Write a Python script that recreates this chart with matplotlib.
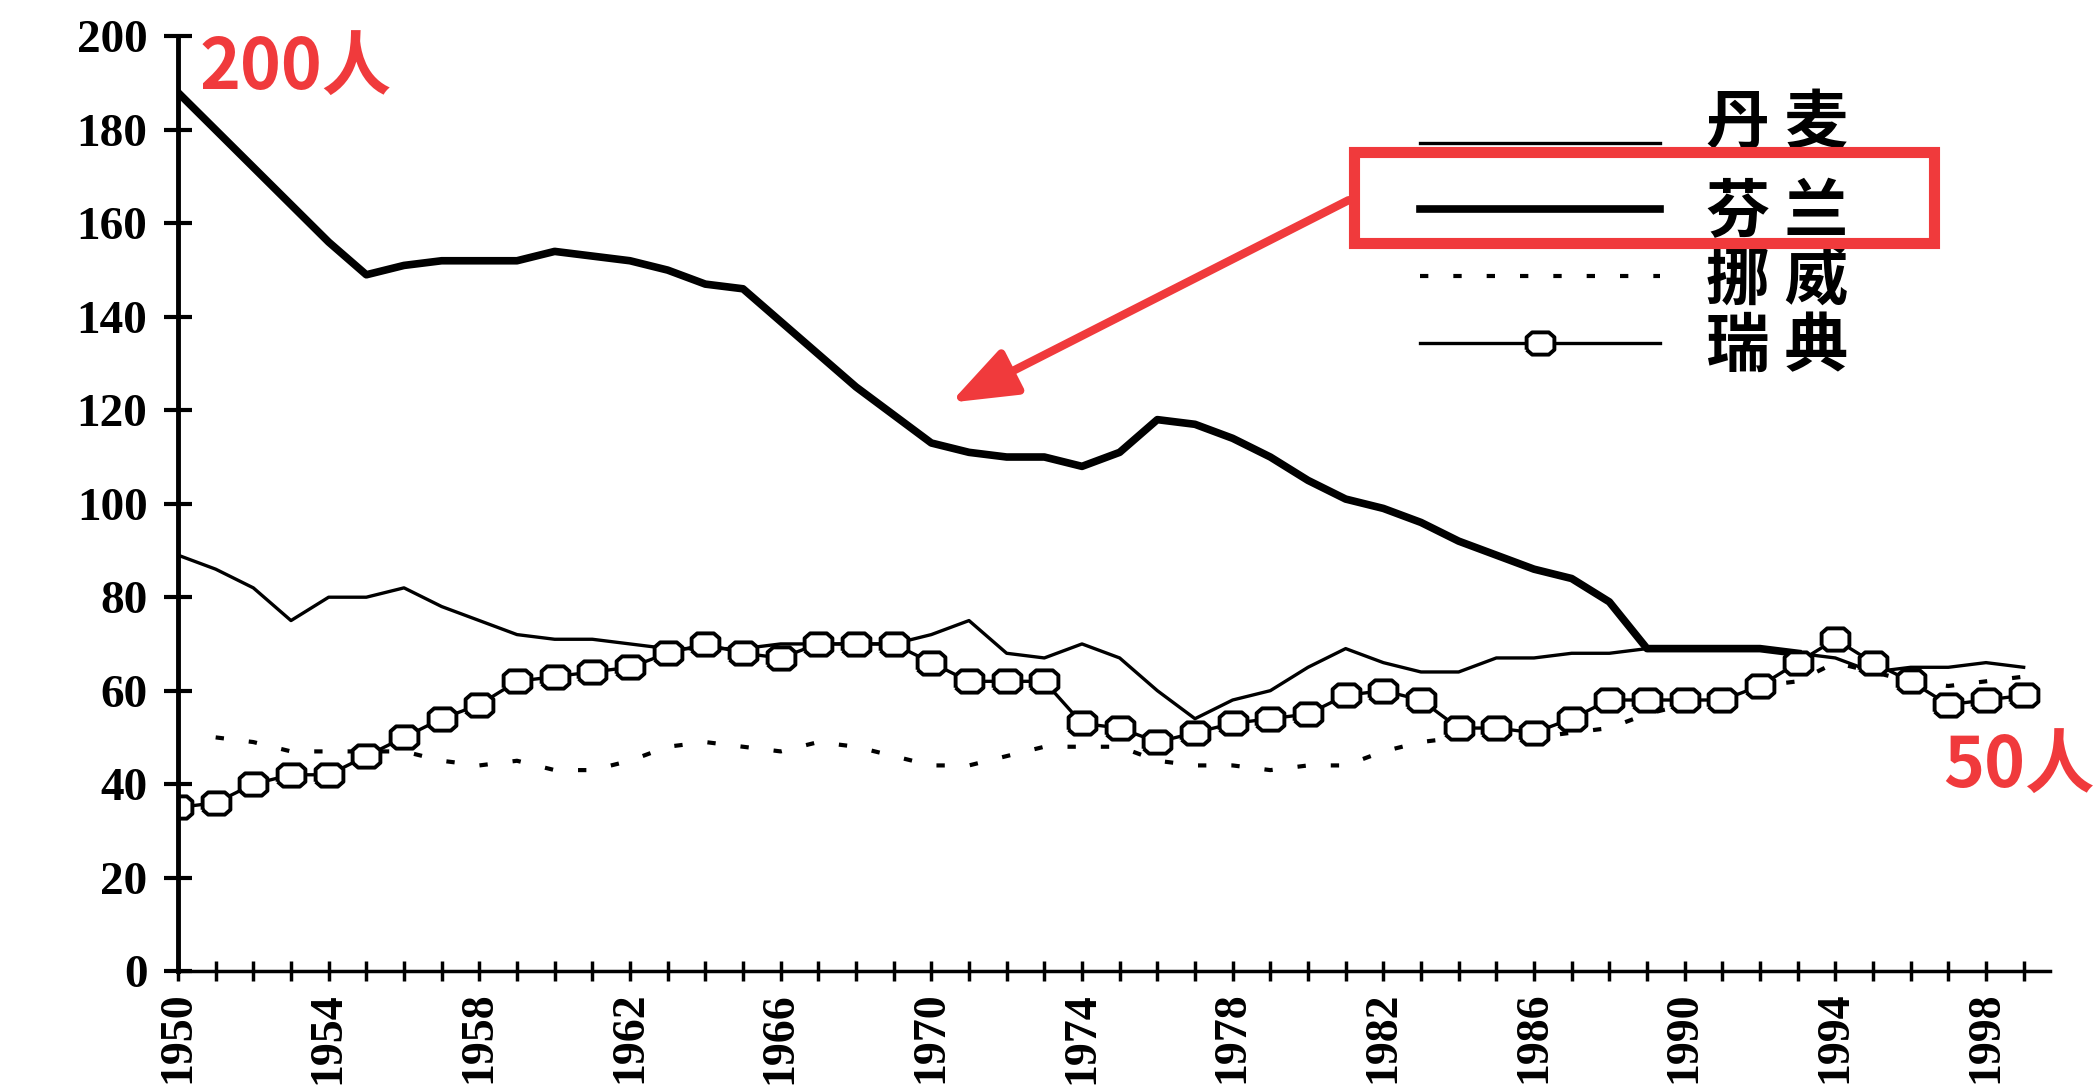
import numpy as np
import matplotlib
matplotlib.use("Agg")
import matplotlib.pyplot as plt
import matplotlib.transforms as mtransforms
from matplotlib.patches import Rectangle

plt.rcParams['font.family'] = ['Noto Sans CJK SC', 'DejaVu Sans']

# data (per year)
years_fin = list(range(1950, 1994))
finland = [188, 180, 172, 164, 156, 149, 151, 152, 152, 152,
           154, 153, 152, 150, 147, 146, 139, 132, 125, 119,
           113, 111, 110, 110, 108, 111, 118, 117, 114, 110,
           105, 101, 99, 96, 92, 89, 86, 84, 79, 69,
           69, 69, 69, 68]

years_den = list(range(1950, 2000))
denmark = [89, 86, 82, 75, 80, 80, 82, 78, 75, 72,
           71, 71, 70, 69, 69, 69, 70, 70, 70, 70,
           72, 75, 68, 67, 70, 67, 60, 54, 58, 60,
           65, 69, 66, 64, 64, 67, 67, 68, 68, 69,
           69, 69, 69, 68, 67, 64, 65, 65, 66, 65]

years_nor = list(range(1951, 2000))
norway = [50, 49, 47, 47, 47, 47, 45, 44, 45,
          43, 43, 45, 48, 49, 48, 47, 49, 48, 46,
          44, 44, 46, 48, 48, 48, 45, 44, 44, 43,
          44, 44, 47, 49, 50, 50, 50, 51, 52, 55,
          57, 60, 61, 62, 66, 64, 62, 61, 62, 63]

years_swe = list(range(1950, 2000))
sweden = [35, 36, 40, 42, 42, 46, 50, 54, 57, 62,
          63, 64, 65, 68, 70, 68, 67, 70, 70, 70,
          66, 62, 62, 62, 53, 52, 49, 51, 53, 54,
          55, 59, 60, 58, 52, 52, 51, 54, 58, 58,
          58, 58, 61, 66, 71, 66, 62, 57, 58, 59]

labels = ['丹 麦', '芬 兰', '挪 威', '瑞 典']
yticks = [0, 20, 40, 60, 80, 100, 120, 140, 160, 180, 200]
xlabel_years = list(range(1950, 2000, 4))

red = '#f03a3c'

fig = plt.figure(figsize=(20.94, 10.88), dpi=100)
ax = fig.add_axes([0.085, 0.1075, 0.894, 0.859])

# octagon marker like the scanned ones
octo = [(-1, -0.45), (-0.6, -0.8), (0.6, -0.8), (1, -0.45), (1, 0.45),
        (0.6, 0.8), (-0.6, 0.8), (-1, 0.45), (-1, -0.45)]

l_den, = ax.plot(years_den, denmark, color='black', lw=2.4)
l_fin, = ax.plot(years_fin, finland, color='black', lw=5.5, solid_joinstyle='round')
l_nor, = ax.plot(years_nor, norway, color='black', lw=3, dashes=(2, 6))
l_swe, = ax.plot(years_swe, sweden, color='black', lw=2.4, marker=octo,
                 markersize=20, markerfacecolor='white', markeredgecolor='black',
                 markeredgewidth=2.8)

ax.set_xlim(1950, 1999.7)
ax.set_ylim(0, 200)
for s in ['top', 'right']:
    ax.spines[s].set_visible(False)
ax.spines['left'].set_linewidth(3.5)
ax.spines['bottom'].set_linewidth(2.5)

ax.set_yticks(yticks)
ax.set_yticklabels([str(v) for v in yticks], family='Liberation Serif',
                   fontweight='bold', fontsize=34)
ax.tick_params(axis='y', direction='inout', length=20, width=3, pad=12)

allyears = list(range(1950, 2000))
ax.set_xticks(allyears)
ax.set_xticklabels([str(y) if y in xlabel_years else '' for y in allyears],
                   family='Liberation Serif', fontweight='bold', fontsize=33,
                   rotation=90)
ax.tick_params(axis='x', direction='inout', length=14, width=2.5, pad=8)

leg = ax.legend([l_den, l_fin, l_nor, l_swe], labels, loc='upper left',
                bbox_to_anchor=(0.663, 0.925), bbox_transform=fig.transFigure,
                frameon=False, numpoints=1, handlelength=3.75, handletextpad=0.72,
                labelspacing=0.02, borderpad=0,
                prop={'family': 'Noto Sans CJK SC', 'weight': 'bold', 'size': 46})
# first label sits a bit higher than its line in the scan, above the red box
t0 = leg.get_texts()[0]
t0.set_transform(t0.get_transform() + mtransforms.Affine2D().translate(0, 22))

# red annotations
fig.patches.append(Rectangle((1354 / 2094, 1 - 243 / 1088), (1934 - 1354) / 2094,
                             (243 - 152) / 1088, transform=fig.transFigure,
                             fill=False, edgecolor=red, lw=8))
ax.annotate('', xy=(0.454, 0.630), xytext=(0.644, 0.816),
            xycoords='figure fraction', textcoords='figure fraction',
            arrowprops=dict(arrowstyle='-|>,head_length=0.8,head_width=0.3',
                            color=red, lw=6, mutation_scale=50,
                            shrinkA=0, shrinkB=0))
fig.text(0.0955, 0.936, '200人', color=red, fontsize=50, fontweight='bold',
         va='center', ha='left')
fig.text(0.928, 0.294, '50人', color=red, fontsize=50, fontweight='bold',
         va='center', ha='left')

fig.savefig('out.png', dpi=100)
